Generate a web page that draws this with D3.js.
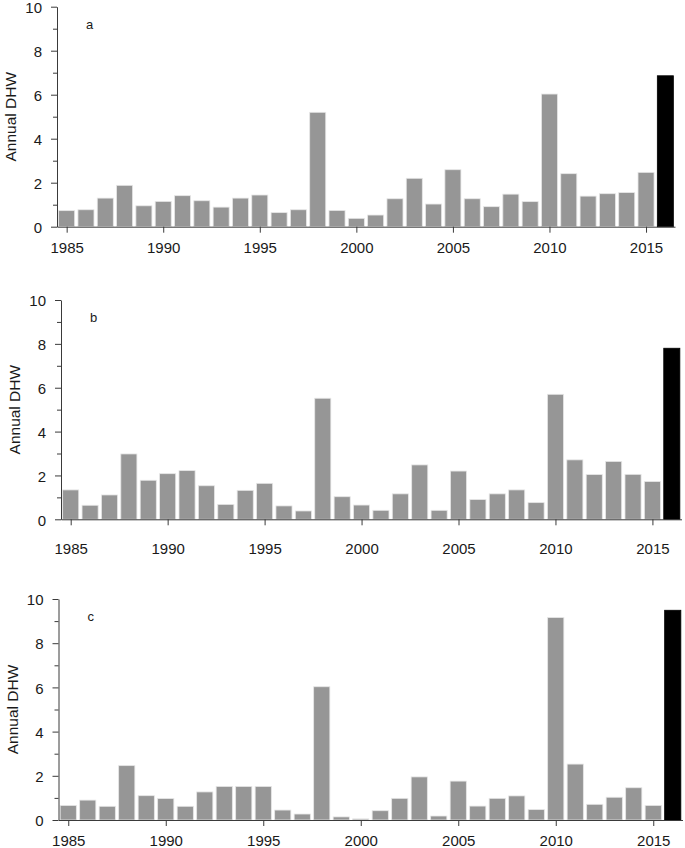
<!DOCTYPE html>
<html>
<head>
<meta charset="utf-8">
<script src="https://cdn.jsdelivr.net/npm/d3@7"></script>
<style>
  html, body { margin: 0; padding: 0; background: #fff; }
  svg { display: block; }
  text { font-family: "Liberation Sans", Arial, Helvetica, sans-serif; fill: #1a1a1a; }
</style>
</head>
<body>
<svg id="chart" width="685" height="848"></svg>
<script>
// ---------------- data ----------------
const years = d3.range(1985, 2017);
const dhwA = [0.73, 0.77, 1.30, 1.88, 0.95, 1.15, 1.41, 1.18, 0.89, 1.30,
              1.44, 0.64, 0.77, 5.20, 0.74, 0.38, 0.53, 1.27, 2.20, 1.03,
              2.59, 1.27, 0.91, 1.48, 1.14, 6.03, 2.41, 1.39, 1.50, 1.55,
              2.47, 6.86];
const dhwB = [1.34, 0.64, 1.11, 2.98, 1.78, 2.08, 2.22, 1.53, 0.68, 1.32,
              1.64, 0.61, 0.38, 5.52, 1.03, 0.65, 0.41, 1.16, 2.48, 0.41,
              2.20, 0.90, 1.16, 1.34, 0.76, 5.70, 2.71, 2.04, 2.64, 2.05,
              1.72, 7.80];
const dhwC = [0.66, 0.90, 0.62, 2.46, 1.10, 0.97, 0.62, 1.27, 1.52, 1.52,
              1.52, 0.45, 0.27, 6.03, 0.14, 0.05, 0.42, 0.98, 1.95, 0.18,
              1.76, 0.63, 0.98, 1.09, 0.47, 9.16, 2.53, 0.71, 1.03, 1.46,
              0.66, 9.49];
const panelLabels = ["a", "b", "c"];
const yMajorTicks = [0, 2, 4, 6, 8, 10];
const yMinorTicks = [1, 3, 5, 7, 9];
const xTicks = [1985, 1990, 1995, 2000, 2005, 2010, 2015];
const highlightYear = 2016;
const yLabel = "Annual DHW";

// ---------------- layout ----------------
const panels = [
  { values: dhwA, label: panelLabels[0], x0: 57,   x1: 675,   yTop: 6.7, yBase: 226.7, xPad: 9.5 },
  { values: dhwB, label: panelLabels[1], x0: 61,   x1: 681.5, yTop: 300, yBase: 519.3, xPad: 18 },
  { values: dhwC, label: panelLabels[2], x0: 58.5, x1: 682.5, yTop: 599, yBase: 820,   xPad: 9.5 }
];

const svg = d3.select("#chart");
const axisColor = "#3a3a3a";

panels.forEach(p => {
  const g = svg.append("g");
  const x = d3.scaleBand().domain(years).range([p.x0, p.x1]).paddingInner(0.17).paddingOuter(0.085);
  const xl = d3.scaleLinear().domain([1984.5, 2016.5]).range([p.x0, p.x1]);
  const y = d3.scaleLinear().domain([0, 10]).range([p.yBase, p.yTop]);

  // bars
  g.selectAll("rect.bar")
    .data(years.map((yr, i) => ({ yr, v: p.values[i] })))
    .join("rect")
    .attr("class", "bar")
    .attr("x", d => x(d.yr))
    .attr("width", x.bandwidth())
    .attr("y", d => y(d.v))
    .attr("height", d => y(0) - y(d.v))
    .attr("fill", d => d.yr === highlightYear ? "#000" : "#969696")
    .attr("stroke", d => d.yr === highlightYear ? "#000" : "#e6e6e6")
    .attr("stroke-width", 0.8);

  // x axis
  const xAxis = g.append("g")
    .attr("transform", `translate(0,${p.yBase})`)
    .call(d3.axisBottom(xl).tickValues(xTicks).tickFormat(d3.format("d"))
      .tickSize(6).tickSizeOuter(0).tickPadding(p.xPad));
  xAxis.selectAll("text").style("font-size", "15px");

  // y axis major
  const yAxis = g.append("g")
    .attr("transform", `translate(${p.x0},0)`)
    .call(d3.axisLeft(y).tickValues(yMajorTicks).tickSize(6).tickSizeOuter(0).tickPadding(9));
  yAxis.selectAll("text").style("font-size", "15px").attr("dy", "0.38em");

  // y axis minor
  const yMinor = g.append("g")
    .attr("transform", `translate(${p.x0},0)`)
    .call(d3.axisLeft(y).tickValues(yMinorTicks).tickSize(4).tickFormat(""));
  yMinor.select(".domain").remove();

  g.selectAll(".domain, .tick line").attr("stroke", axisColor).attr("stroke-width", 1);
  g.selectAll(".tick text").attr("fill", "#1a1a1a")
    .style("font-family", '"Liberation Sans", Arial, Helvetica, sans-serif');

  // y label
  g.append("text")
    .attr("transform", `translate(${p.x0 - 46},${(p.yTop + p.yBase) / 2}) rotate(-90)`)
    .attr("text-anchor", "middle")
    .attr("dy", "0.35em")
    .style("font-size", "15.5px")
    .text(yLabel);

  // panel label
  g.append("text")
    .attr("x", p.x0 + 29)
    .attr("y", p.yTop + 22.3)
    .style("font-size", "13px")
    .text(p.label);
});
</script>
</body>
</html>
